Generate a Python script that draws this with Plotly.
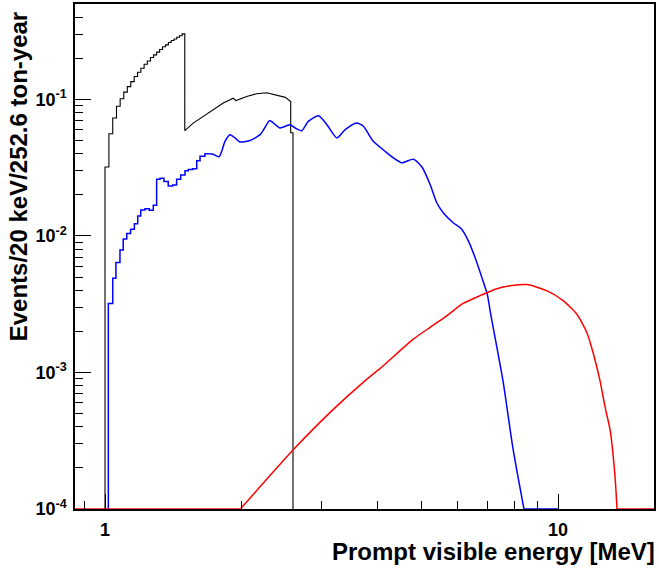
import math

import plotly.graph_objects as go

# ---------------------------------------------------------------------------
# Data (energies in MeV, contents in events/20 keV)
# ---------------------------------------------------------------------------

FLOOR = 1e-4          # empty bins are drawn on the lower edge of the frame
E_MIN, E_MAX = 0.8585, 16.29

# black histogram: 20 keV bins from 1.00 to 1.50 MeV, then a smooth shoulder
black_step_edges = [1.00, 1.02, 1.04, 1.06, 1.08, 1.10, 1.12, 1.14, 1.16, 1.18,
                    1.20, 1.22, 1.24, 1.26, 1.28, 1.30, 1.32, 1.34, 1.36, 1.38,
                    1.40, 1.42, 1.44, 1.46, 1.48, 1.50]
black_step_vals = [0.032, 0.056, 0.073, 0.089, 0.101, 0.113, 0.124, 0.135, 0.147,
                   0.158, 0.169, 0.181, 0.191, 0.203, 0.212, 0.222, 0.232, 0.243,
                   0.251, 0.261, 0.270, 0.277, 0.285, 0.293, 0.302]
black_smooth_e = [1.50, 1.566, 1.648, 1.734, 1.824, 1.92, 1.946, 2.055, 2.16,
                  2.275, 2.39, 2.50, 2.57]
black_smooth_v = [0.059, 0.067, 0.075, 0.084, 0.094, 0.102, 0.098, 0.105, 0.110,
                  0.112, 0.108, 0.1035, 0.0966]
black_tail_edges = [2.57, 2.60]
black_tail_vals = [0.057]

# blue histogram: coarse-looking steps at low energy, then fine structure
blue_step_edges = [1.017, 1.040, 1.057, 1.079, 1.097, 1.117, 1.139, 1.161, 1.181,
                   1.199, 1.225, 1.252, 1.278, 1.300, 1.323, 1.349, 1.379, 1.411,
                   1.439, 1.469, 1.502, 1.527, 1.561, 1.594, 1.621, 1.662, 1.70]
blue_step_vals = [0.0032, 0.0049, 0.0064, 0.0079, 0.0095, 0.0104, 0.0112, 0.0123,
                  0.0140, 0.0155, 0.0158, 0.0154, 0.0168, 0.0260, 0.0265, 0.0250,
                  0.0232, 0.0236, 0.0260, 0.0279, 0.0300, 0.0307, 0.0310, 0.0356,
                  0.0383, 0.0400]
blue_smooth_e = [1.70, 1.734, 1.765, 1.787, 1.81, 1.84, 1.888, 1.94, 1.986, 2.09,
                 2.20, 2.25, 2.31, 2.37, 2.43, 2.50, 2.56, 2.63, 2.72, 2.81, 2.96,
                 3.09, 3.25, 3.39, 3.59, 3.72, 3.91, 4.15, 4.33, 4.52, 4.80, 5.02,
                 5.22, 5.40, 5.58, 5.87, 6.13, 6.34, 6.56, 6.79, 6.98, 7.08, 7.56,
                 7.95, 8.41]
blue_smooth_v = [0.0400, 0.0397, 0.0384, 0.0380, 0.0417, 0.0493, 0.0552, 0.0520,
                 0.0488, 0.0500, 0.0552, 0.0617, 0.0700, 0.0660, 0.0617, 0.0636,
                 0.0653, 0.0617, 0.0590, 0.0690, 0.0760, 0.0653, 0.0522, 0.0600,
                 0.0671, 0.0636, 0.0493, 0.0417, 0.0373, 0.0343, 0.0365, 0.0316,
                 0.0238, 0.0175, 0.0148, 0.0125, 0.0112, 0.0092, 0.00695, 0.00497,
                 0.00375, 0.00284, 0.00087, 0.00028, FLOOR]
blue_end = 10.0       # upper edge of the blue histogram

# red spectrum
red_e = [1.99, 2.6, 3.14, 3.72, 4.05, 4.80, 5.22, 5.68, 6.17, 6.73, 7.33,
         7.84, 8.54, 9.44, 10.26, 11.0, 11.6, 11.97, 12.38, 12.7, 13.03, 13.35,
         13.5]
red_v = [FLOOR, 2.7e-4, 5.1e-4, 8.5e-4, 1.07e-3, 1.76e-3, 2.14e-3, 2.6e-3,
         3.2e-3, 3.65e-3, 4.1e-3, 4.31e-3, 4.4e-3, 3.97e-3, 3.36e-3, 2.68e-3,
         1.93e-3, 1.37e-3, 8.7e-4, 5.6e-4, 3.8e-4, 1.8e-4, FLOOR]

x_major = [1, 10]
x_minor = [0.9, 2, 3, 4, 5, 6, 7, 8, 9]
y_major = [1e-4, 1e-3, 1e-2, 1e-1]
y_major_text = ["10<sup>-4</sup>", "10<sup>-3</sup>", "10<sup>-2</sup>", "10<sup>-1</sup>"]
y_minor = [m * 10.0 ** d for d in range(-4, 0) for m in range(2, 10)]

X_TITLE = "Prompt visible energy [MeV]"
Y_TITLE = "Events/20 keV/252.6 ton-year"


# ---------------------------------------------------------------------------
# helpers
# ---------------------------------------------------------------------------

def steps(edges, vals):
    """Turn bin edges + contents into a stair polyline."""
    xs, ys = [], []
    for i, v in enumerate(vals):
        xs += [edges[i], edges[i + 1]]
        ys += [v, v]
    return xs, ys


def line(x, y, color, width, shape="linear"):
    return go.Scatter(x=x, y=y, mode="lines", hoverinfo="skip",
                      line=dict(color=color, width=width, shape=shape, smoothing=0.6))


# black path: rise from the floor, stairs, shoulder, last bin, back to floor
bx, by = [black_step_edges[0]], [FLOOR]
sx, sy = steps(black_step_edges, black_step_vals)
bx += sx + black_smooth_e
by += sy + black_smooth_v
sx, sy = steps(black_tail_edges, black_tail_vals)
bx += sx + [black_tail_edges[-1]]
by += sy + [FLOOR]

# blue stairs (low energy) joined to the finely binned part
ux, uy = [blue_step_edges[0]], [FLOOR]
sx, sy = steps(blue_step_edges, blue_step_vals)
ux += sx
uy += sy

fig = go.Figure()
fig.add_trace(line(bx, by, "black", 1.1))
fig.add_trace(line(ux, uy, "#0000ff", 1.5))
fig.add_trace(line(blue_smooth_e, blue_smooth_v, "#0000ff", 1.5, "spline"))
fig.add_trace(line([blue_smooth_e[-1], blue_end], [FLOOR, FLOOR], "#0000ff", 1.5))
# red: empty bins on both sides sit on the frame
fig.add_trace(line([E_MIN, red_e[0]], [FLOOR, FLOOR], "#ff0000", 1.5))
fig.add_trace(line(red_e, red_v, "#ff0000", 1.5, "spline"))
fig.add_trace(line([red_e[-1], E_MAX], [FLOOR, FLOOR], "#ff0000", 1.5))

FONT = "Liberation Sans, Arial, Helvetica, sans-serif"
tickfont = dict(family=FONT, size=18, color="black", weight="bold")

fig.update_xaxes(
    type="log",
    range=[math.log10(E_MIN), math.log10(E_MAX)],
    showgrid=False, zeroline=False,
    showline=True, linecolor="black", linewidth=1.5, mirror=True,
    ticks="inside", ticklen=15, tickwidth=1.3, tickcolor="black",
    tickvals=x_major, ticktext=[str(v) for v in x_major],
    tickfont=tickfont, ticklabelstandoff=4, layer="above traces",
    minor=dict(tickvals=x_minor, ticks="inside",
               ticklen=8, tickwidth=1.3, tickcolor="black", showgrid=False),
)
fig.update_yaxes(
    type="log",
    range=[-4.0005, math.log10(0.5)],
    showgrid=False, zeroline=False,
    showline=True, linecolor="black", linewidth=1.5, mirror=True,
    ticks="inside", ticklen=16, tickwidth=1.3, tickcolor="black",
    tickvals=y_major, ticktext=y_major_text,
    tickfont=tickfont, ticklabelstandoff=3, layer="above traces",
    minor=dict(tickvals=y_minor, ticks="inside",
               ticklen=8, tickwidth=1.3, tickcolor="black", showgrid=False),
)

titlefont = dict(family=FONT, size=24, color="black", weight="bold")
fig.add_annotation(text=X_TITLE, xref="paper", yref="paper", x=1.006, y=-0.085,
                   xanchor="right", yanchor="middle", showarrow=False, font=titlefont)
fig.add_annotation(text=Y_TITLE, xref="paper", yref="paper", x=-0.098, y=0.99,
                   xanchor="center", yanchor="top", textangle=-90,
                   showarrow=False, font=titlefont)

fig.update_layout(
    width=659, height=571,
    margin=dict(l=75, r=5, t=2, b=62),
    plot_bgcolor="white", paper_bgcolor="white",
    showlegend=False,
)

# the default page keeps an 8px body margin; drop it so the figure fills the window
fig.write_html("out.html",
               config={"displayModeBar": False},
               post_script="document.body.style.margin='0';")
